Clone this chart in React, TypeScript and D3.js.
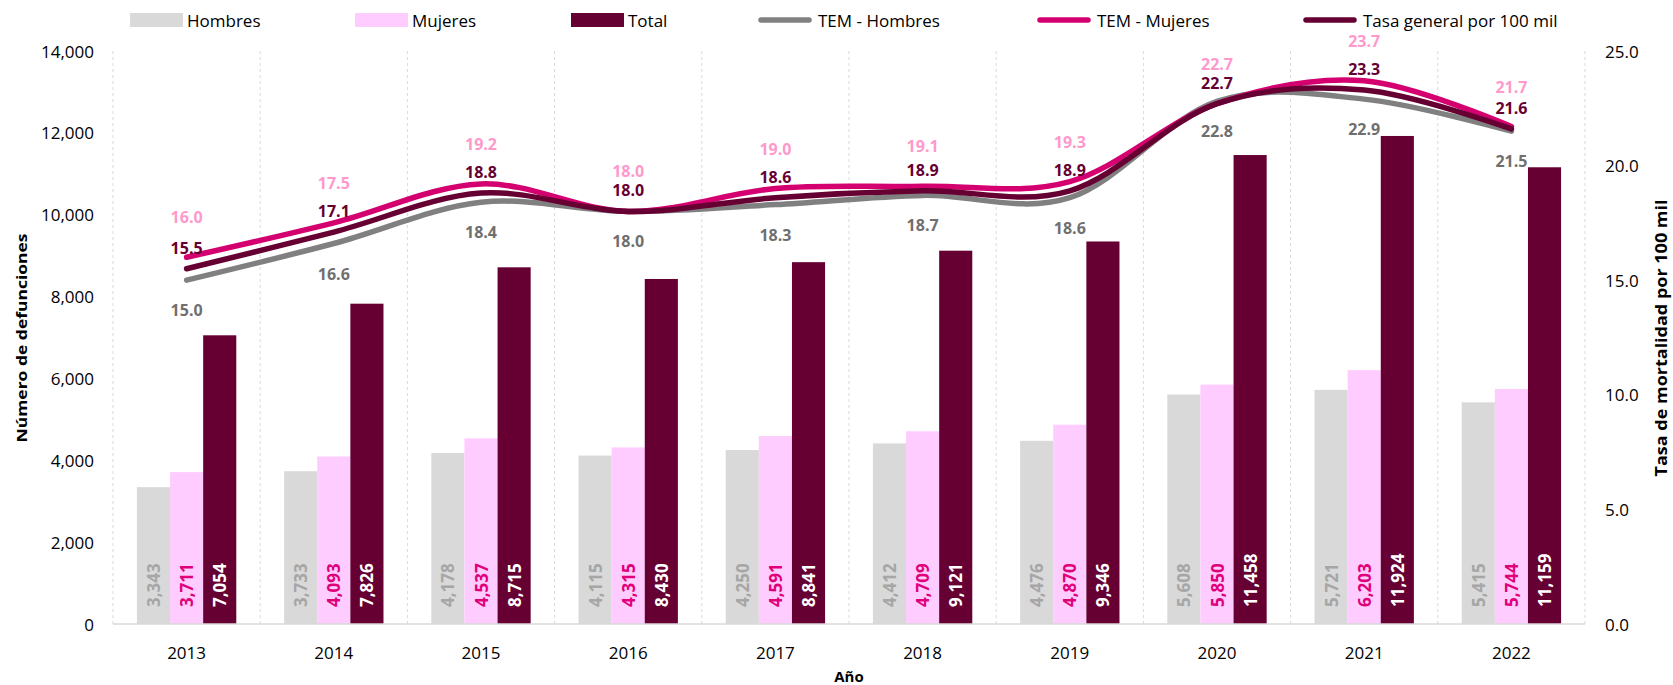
import React, { Component } from "react";
import * as d3 from "d3";

// años y series
const years = ["2013", "2014", "2015", "2016", "2017", "2018", "2019", "2020", "2021", "2022"];
const hombres = [3343, 3733, 4178, 4115, 4250, 4412, 4476, 5608, 5721, 5415];
const mujeres = [3711, 4093, 4537, 4315, 4591, 4709, 4870, 5850, 6203, 5744];
const total = [7054, 7826, 8715, 8430, 8841, 9121, 9346, 11458, 11924, 11159];
const temHombres = [15.0, 16.6, 18.4, 18.0, 18.3, 18.7, 18.6, 22.8, 22.9, 21.5];
const temMujeres = [16.0, 17.5, 19.2, 18.0, 19.0, 19.1, 19.3, 22.7, 23.7, 21.7];
const tasaGeneral = [15.5, 17.1, 18.8, 18.0, 18.6, 18.9, 18.9, 22.7, 23.3, 21.6];
const leftTicks = [0, 2000, 4000, 6000, 8000, 10000, 12000, 14000];
const rightTicks = [0, 5, 10, 15, 20, 25];

const FONT = "'Open Sans', 'Noto Sans', sans-serif";

type Props = {};

class App extends Component<Props> {
  ref = React.createRef<SVGSVGElement>();

  plot = () => {
    var width = 1673;
    var height = 685;
    var margin = { top: 51, right: 88, bottom: 61, left: 113 };
    var svg = d3.select(this.ref.current);
    svg.selectAll("*").remove();
    svg.attr("width", width).attr("height", height);

    var x = d3
      .scaleBand<string>()
      .domain(years)
      .range([margin.left, width - margin.right])
      .paddingInner(0)
      .paddingOuter(0);
    var yL = d3.scaleLinear().domain([0, 14000]).range([height - margin.bottom, margin.top]);
    var yR = d3.scaleLinear().domain([0, 25]).range([height - margin.bottom, margin.top]);
    var step = x.step();
    var groupW = step * 0.675;
    var inner = d3
      .scaleBand<string>()
      .domain(["h", "m", "t"])
      .range([(step - groupW) / 2, (step + groupW) / 2]);

    // líneas verticales punteadas
    var bounds = years.map((d) => x(d) as number).concat([width - margin.right]);
    svg
      .append("g")
      .selectAll("line")
      .data(bounds)
      .enter()
      .append("line")
      .attr("x1", (d) => d)
      .attr("x2", (d) => d)
      .attr("y1", yL(14000))
      .attr("y2", yL(0))
      .attr("stroke", "#d9d9d9")
      .attr("stroke-width", 1)
      .attr("stroke-dasharray", "3,3");

    // barras
    var barSeries = [
      { key: "h", values: hombres, fill: "#d9d9d9", label: "#a6a6a6" },
      { key: "m", values: mujeres, fill: "#ffccff", label: "#e0007a" },
      { key: "t", values: total, fill: "#660033", label: "#ffffff" },
    ];
    var fmt = d3.format(",");
    barSeries.forEach((s) => {
      var g = svg.append("g");
      g.selectAll("rect")
        .data(s.values)
        .enter()
        .append("rect")
        .attr("x", (d, i) => (x(years[i]) as number) + (inner(s.key) as number))
        .attr("y", (d) => yL(d))
        .attr("width", inner.bandwidth())
        .attr("height", (d) => yL(0) - yL(d))
        .attr("fill", s.fill);
      g.selectAll("text")
        .data(s.values)
        .enter()
        .append("text")
        .attr("transform", (d, i) => {
          var cx = (x(years[i]) as number) + (inner(s.key) as number) + inner.bandwidth() / 2;
          return "translate(" + cx + "," + (yL(0) - 17) + ") rotate(-90)";
        })
        .attr("dominant-baseline", "central")
        .attr("text-anchor", "start")
        .attr("font-family", FONT)
        .attr("font-weight", "bold")
        .attr("font-size", 17)
        .attr("fill", s.label)
        .text((d) => fmt(d));
    });

    // eje x
    svg
      .append("line")
      .attr("x1", margin.left)
      .attr("x2", width - margin.right)
      .attr("y1", yL(0))
      .attr("y2", yL(0))
      .attr("stroke", "#d9d9d9")
      .attr("stroke-width", 1.5);

    svg
      .append("g")
      .selectAll("text")
      .data(years)
      .enter()
      .append("text")
      .attr("x", (d) => (x(d) as number) + step / 2)
      .attr("y", 652)
      .attr("dominant-baseline", "central")
      .attr("text-anchor", "middle")
      .attr("font-family", FONT)
      .attr("font-size", 17)
      .attr("fill", "#000")
      .text((d) => d);

    // ejes y
    svg
      .append("g")
      .selectAll("text")
      .data(leftTicks)
      .enter()
      .append("text")
      .attr("x", 94)
      .attr("y", (d) => yL(d))
      .attr("dominant-baseline", "central")
      .attr("text-anchor", "end")
      .attr("font-family", FONT)
      .attr("font-size", 17)
      .attr("fill", "#000")
      .text((d) => fmt(d));

    svg
      .append("g")
      .selectAll("text")
      .data(rightTicks)
      .enter()
      .append("text")
      .attr("x", 1605)
      .attr("y", (d) => yR(d))
      .attr("dominant-baseline", "central")
      .attr("text-anchor", "start")
      .attr("font-family", FONT)
      .attr("font-size", 17)
      .attr("fill", "#000")
      .text((d) => d3.format(".1f")(d));

    svg
      .append("text")
      .attr("transform", "translate(21,338) rotate(-90)")
      .attr("dominant-baseline", "central")
      .attr("text-anchor", "middle")
      .attr("font-family", FONT)
      .attr("font-weight", "bold")
      .attr("font-size", 14)
      .attr("textLength", 209)
      .attr("lengthAdjust", "spacingAndGlyphs")
      .text("Número de defunciones");

    svg
      .append("text")
      .attr("transform", "translate(1661,338) rotate(-90)")
      .attr("dominant-baseline", "central")
      .attr("text-anchor", "middle")
      .attr("font-family", FONT)
      .attr("font-weight", "bold")
      .attr("font-size", 16)
      .attr("textLength", 277)
      .attr("lengthAdjust", "spacingAndGlyphs")
      .text("Tasa de mortalidad por 100 mil");

    svg
      .append("text")
      .attr("x", (margin.left + width - margin.right) / 2)
      .attr("y", 676)
      .attr("dominant-baseline", "central")
      .attr("text-anchor", "middle")
      .attr("font-family", FONT)
      .attr("font-weight", "bold")
      .attr("font-size", 15)
      .text("Año");

    // líneas de tasas
    var lineSeries = [
      { values: temHombres, stroke: "#808080", label: "#6f6f6f", dy: 30 },
      { values: temMujeres, stroke: "#d4006f", label: "#ff99cc", dy: -40 },
      { values: tasaGeneral, stroke: "#660033", label: "#660033", dy: -21 },
    ];
    var line = d3
      .line<number>()
      .x((d, i) => (x(years[i]) as number) + step / 2)
      .y((d) => yR(d))
      .curve(d3.curveCatmullRom.alpha(0));
    lineSeries.forEach((s) => {
      svg
        .append("path")
        .datum(s.values)
        .attr("d", line)
        .attr("fill", "none")
        .attr("stroke", s.stroke)
        .attr("stroke-width", 5.5)
        .attr("stroke-linecap", "round")
        .attr("stroke-linejoin", "round");
    });
    lineSeries.forEach((s) => {
      svg
        .append("g")
        .selectAll("text")
        .data(s.values)
        .enter()
        .append("text")
        .attr("x", (d, i) => (x(years[i]) as number) + step / 2)
        .attr("y", (d) => yR(d) + s.dy)
        .attr("dominant-baseline", "central")
        .attr("text-anchor", "middle")
        .attr("font-family", FONT)
        .attr("font-weight", "bold")
        .attr("font-size", 16)
        .attr("fill", s.label)
        .text((d) => d3.format(".1f")(d));
    });

    // leyenda
    var legend = [
      { name: "Hombres", type: "rect", color: "#d9d9d9", x: 130 },
      { name: "Mujeres", type: "rect", color: "#ffccff", x: 355 },
      { name: "Total", type: "rect", color: "#660033", x: 571 },
      { name: "TEM - Hombres", type: "line", color: "#808080", x: 761 },
      { name: "TEM - Mujeres", type: "line", color: "#d4006f", x: 1040 },
      { name: "Tasa general por 100 mil", type: "line", color: "#660033", x: 1306 },
    ];
    var lg = svg.append("g");
    legend.forEach((l) => {
      if (l.type === "rect") {
        lg.append("rect")
          .attr("x", l.x)
          .attr("y", 13)
          .attr("width", 53)
          .attr("height", 14)
          .attr("fill", l.color);
      } else {
        lg.append("line")
          .attr("x1", l.x)
          .attr("x2", l.x + 48)
          .attr("y1", 20)
          .attr("y2", 20)
          .attr("stroke", l.color)
          .attr("stroke-width", 5.5)
          .attr("stroke-linecap", "round");
      }
      lg.append("text")
        .attr("x", l.x + 57)
        .attr("y", 20)
        .attr("dominant-baseline", "central")
        .attr("font-family", FONT)
        .attr("font-size", 17)
        .attr("fill", "#000")
        .text(l.name);
    });
  };

  componentDidMount() {
    document.body.style.margin = "0";
    this.plot();
  }

  render() {
    return <svg ref={this.ref} style={{ display: "block", background: "#fff" }}></svg>;
  }
}

export default App;
